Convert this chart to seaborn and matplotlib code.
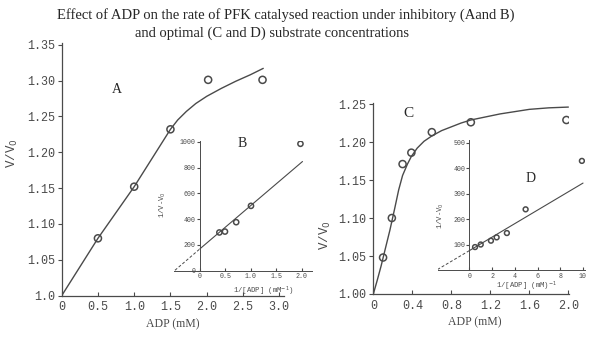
import matplotlib
matplotlib.use('Agg')
import matplotlib.pyplot as plt
import seaborn as sns

# panel A: V/V0 vs ADP, inhibitory substrate
a_x = [0.5, 1.0, 1.5, 2.02, 2.77]
a_y = [1.080, 1.152, 1.232, 1.301, 1.301]
a_curve_x = [0, 0.5, 1.0, 1.5, 1.6, 1.72, 1.85, 2.0, 2.2, 2.4, 2.6, 2.78]
a_curve_y = [1.0, 1.08, 1.152, 1.232, 1.245, 1.257, 1.268, 1.278, 1.289, 1.299, 1.308, 1.317]

# panel B: double reciprocal
b_x = [0.38, 0.49, 0.71, 1.0, 1.97]
b_y = [296, 303, 376, 503, 986]
b_dash_x = [-0.49, 0]
b_dash_y = [2, 169]
b_fit_x = [0, 2.01]
b_fit_y = [169, 848]

# panel C: optimal substrate
c_x = [0.1, 0.19, 0.3, 0.39, 0.6, 1.0, 1.98]
c_y = [1.048, 1.100, 1.171, 1.186, 1.213, 1.226, 1.229]
c_curve_x = [0, 0.04, 0.08, 0.12, 0.17, 0.22, 0.26, 0.3, 0.35, 0.39, 0.45, 0.52,
             0.6, 0.7, 0.8, 0.9, 1.0, 1.15, 1.3, 1.45, 1.6, 1.8, 2.0]
c_curve_y = [1.0, 1.018, 1.037, 1.058, 1.084, 1.113, 1.137, 1.156, 1.171, 1.181, 1.192, 1.201,
             1.208, 1.215, 1.220, 1.225, 1.229, 1.233, 1.237, 1.240, 1.243, 1.245, 1.246]

# panel D: double reciprocal
d_x = [0.5, 1.0, 1.9, 2.4, 3.3, 4.95, 9.9]
d_y = [90, 100, 115, 128, 145, 238, 428]
d_dash_x = [-2.8, 0]
d_dash_y = [2, 76]
d_fit_x = [0, 10]
d_fit_y = [76, 341]

a_xticks = [0, 0.5, 1.0, 1.5, 2.0, 2.5, 3.0]
a_xlabels = ['0', '0.5', '1.0', '1.5', '2.0', '2.5', '3.0']
a_yticks = [1.0, 1.05, 1.10, 1.15, 1.20, 1.25, 1.30, 1.35]
a_ylabels = ['1.0', '1.05', '1.10', '1.15', '1.20', '1.25', '1.30', '1.35']
b_xticks = [0, 0.5, 1.0, 1.5, 2.0]
b_xlabels = ['0', '0.5', '1.0', '1.5', '2.0']
b_yticks = [0, 200, 400, 600, 800, 1000]
c_xticks = [0, 0.4, 0.8, 1.2, 1.6, 2.0]
c_xlabels = ['0', '0.4', '0.8', '1.2', '1.6', '2.0']
c_yticks = [1.0, 1.05, 1.10, 1.15, 1.20, 1.25]
c_ylabels = ['1.00', '1.05', '1.10', '1.15', '1.20', '1.25']
d_xticks = [0, 2, 4, 6, 8, 10]
d_yticks = [100, 200, 300, 400, 500]

INK = '#4a4a4a'
MONO = 'Liberation Mono'
SERIF = 'Liberation Serif'

sns.set_style('ticks')
plt.rcParams['font.family'] = [MONO, 'DejaVu Sans']


def style_axes(ax, fs, inset=False):
    sns.despine(ax=ax)
    for s in ['left', 'bottom']:
        ax.spines[s].set_color(INK)
        ax.spines[s].set_linewidth(0.9 if not inset else 0.7)
    if inset:
        ax.spines['left'].set_position(('data', 0))
        ax.set_facecolor('none')
    ax.tick_params(axis='x', direction='in', length=3 if not inset else 2,
                   width=0.8, colors=INK, labelsize=fs, pad=4 if not inset else 2)
    ax.tick_params(axis='y', direction='out', length=3 if not inset else 2,
                   width=0.8, colors=INK, labelsize=fs, pad=2 if not inset else 1)


def circles(x, y, ax, s):
    sns.scatterplot(x=x, y=y, ax=ax, s=s, facecolor='none', edgecolor=INK,
                    linewidth=1.1, zorder=5, legend=False)


fig = plt.figure(figsize=(6, 3.37), dpi=100)

# A
ax_a = fig.add_axes([0.1028, 0.1226, 0.371, 0.749])
sns.lineplot(x=a_curve_x, y=a_curve_y, ax=ax_a, color=INK, lw=1.0, sort=False)
circles(a_x, a_y, ax_a, 26)
ax_a.set_xlim(0, 3.07)
ax_a.set_ylim(1.0, 1.352)
ax_a.set_xticks(a_xticks, a_xlabels)
ax_a.set_yticks(a_yticks, a_ylabels)
style_axes(ax_a, 8.5)
ax_a.set_ylabel('V/V$_0$', fontsize=9, color=INK)
ax_a.yaxis.set_label_coords(-0.188, 0.565)
ax_a.set_xlabel('ADP (mM)', fontsize=8.5, color=INK, family=SERIF)
ax_a.xaxis.set_label_coords(0.501, -0.089)
ax_a.text(0.76, 1.288, 'A', fontsize=10, family=SERIF, ha='center', va='center')

# B
ax_b = fig.add_axes([0.2908, 0.1973, 0.2295, 0.3852])
sns.lineplot(x=b_dash_x, y=b_dash_y, ax=ax_b, color=INK, lw=0.7, linestyle=(0, (3, 2)))
sns.lineplot(x=b_fit_x, y=b_fit_y, ax=ax_b, color=INK, lw=0.8)
circles(b_x, b_y, ax_b, 14)
ax_b.set_xlim(-0.5, 2.2)
ax_b.set_ylim(0, 1010)
ax_b.set_xticks(b_xticks, b_xlabels)
ax_b.set_yticks(b_yticks)
style_axes(ax_b, 4.8, inset=True)
ax_b.set_ylabel('1/V-V$_0$', fontsize=5.2, color=INK)
ax_b.yaxis.set_label_coords(-0.047, 0.505)
ax_b.set_xlabel('1/[ADP] (mM$^{-1}$)', fontsize=5.2, color=INK)
ax_b.xaxis.set_label_coords(0.643, -0.112)
ax_b.text(0.82, 990, 'B', fontsize=10, family=SERIF, ha='center', va='center')

# C
ax_c = fig.add_axes([0.6222, 0.1276, 0.3267, 0.5682])
sns.lineplot(x=c_curve_x, y=c_curve_y, ax=ax_c, color=INK, lw=1.0, sort=False)
circles(c_x, c_y, ax_c, 26)
ax_c.set_xlim(0, 2.01)
ax_c.set_ylim(1.0, 1.252)
ax_c.set_xticks(c_xticks, c_xlabels)
ax_c.set_yticks(c_yticks, c_ylabels)
style_axes(ax_c, 8.5)
ax_c.set_ylabel('V/V$_0$', fontsize=9, color=INK)
ax_c.yaxis.set_label_coords(-0.205, 0.308)
ax_c.set_xlabel('ADP (mM)', fontsize=8.5, color=INK, family=SERIF)
ax_c.xaxis.set_label_coords(0.519, -0.115)
ax_c.text(0.36, 1.237, 'C', fontsize=11, family=SERIF, ha='center', va='center')

# D
ax_d = fig.add_axes([0.7292, 0.1988, 0.2463, 0.3858])
sns.lineplot(x=d_dash_x, y=d_dash_y, ax=ax_d, color=INK, lw=0.7, linestyle=(0, (3, 2)))
sns.lineplot(x=d_fit_x, y=d_fit_y, ax=ax_d, color=INK, lw=0.8)
circles(d_x, d_y, ax_d, 12)
ax_d.set_xlim(-2.8, 10.2)
ax_d.set_ylim(0, 510)
ax_d.set_xticks(d_xticks)
ax_d.set_yticks(d_yticks)
style_axes(ax_d, 4.8, inset=True)
ax_d.set_ylabel('1/V-V$_0$', fontsize=5.2, color=INK)
ax_d.yaxis.set_label_coords(0.06, 0.42)
ax_d.set_xlabel('1/[ADP] (mM)$^{-1}$', fontsize=5.2, color=INK)
ax_d.xaxis.set_label_coords(0.604, -0.077)
ax_d.text(5.35, 360, 'D', fontsize=10, family=SERIF, ha='center', va='center')

fig.text(286 / 600, 1 - 15 / 337,
         'Effect of ADP on the rate of PFK catalysed reaction under inhibitory (Aand B)',
         ha='center', va='center', fontsize=10.5, family=SERIF)
fig.text(272 / 600, 1 - 33 / 337, 'and optimal (C and D) substrate concentrations',
         ha='center', va='center', fontsize=10.5, family=SERIF)

fig.savefig('out.png', dpi=100)
